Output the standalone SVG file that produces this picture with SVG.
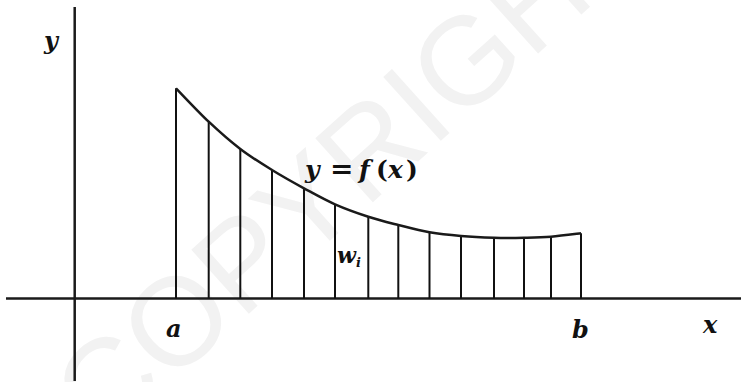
<svg xmlns="http://www.w3.org/2000/svg" width="741" height="382" viewBox="0 0 741 382">
<style>
.ax{stroke:#1a1a1a;stroke-width:2.5;fill:none}
.st{stroke:#111;stroke-width:2;fill:none}
.cv{stroke:#1a1a1a;stroke-width:2.5;fill:none}
.m{font-family:"DejaVu Serif","Liberation Serif",serif;font-style:italic;font-weight:bold;fill:#111}
.wm{font-family:"Liberation Sans","DejaVu Sans",sans-serif;fill:#f2f2f2}
</style>
<rect width="741" height="382" fill="#fff"/>
<text class="wm" font-size="125" transform="translate(102,446) rotate(-42)">COPYRIGHT</text>
<g id="axes">
<line class="ax" x1="74.7" y1="7" x2="74.7" y2="381"/>
<line class="ax" x1="6" y1="298.5" x2="741" y2="298.5"/>
</g>
<g id="strips">
<line class="st" x1="176" y1="88.3" x2="176" y2="298.5"/>
<line class="st" x1="208.7" y1="121.7" x2="208.7" y2="298.5"/>
<line class="st" x1="240.3" y1="149" x2="240.3" y2="298.5"/>
<line class="st" x1="272" y1="170" x2="272" y2="298.5"/>
<line class="st" x1="304" y1="188.3" x2="304" y2="298.5"/>
<line class="st" x1="335" y1="204.3" x2="335" y2="298.5"/>
<line class="st" x1="368.3" y1="216.7" x2="368.3" y2="298.5"/>
<line class="st" x1="398.3" y1="225" x2="398.3" y2="298.5"/>
<line class="st" x1="429.5" y1="232.3" x2="429.5" y2="298.5"/>
<line class="st" x1="461" y1="236" x2="461" y2="298.5"/>
<line class="st" x1="494" y1="237.7" x2="494" y2="298.5"/>
<line class="st" x1="524" y1="237.7" x2="524" y2="298.5"/>
<line class="st" x1="551" y1="236.7" x2="551" y2="298.5"/>
<line class="st" x1="581" y1="233.3" x2="581" y2="298.5"/>
</g>
<g id="curve">
<path class="cv" d="M176,88.3 C181.5,93.9 198,111.6 208.7,121.7 C219.4,131.8 229.8,141 240.3,149 C250.9,157.1 261.4,163.5 272,170 C282.6,176.5 293.5,182.6 304,188.3 C314.5,194 324.3,199.6 335,204.3 C345.7,209 357.8,213.3 368.3,216.7 C378.9,220.2 388.1,222.4 398.3,225 C408.5,227.6 419,230.5 429.5,232.3 C440,234.1 450.3,235.1 461,236 C471.8,236.9 483.5,237.4 494,237.7 C504.5,238 514.5,237.9 524,237.7 C533.5,237.5 541.5,237.4 551,236.7 C560.5,236 576,233.9 581,233.3"/>
</g>
<g id="labels">
<text class="m" x="44" y="49" font-size="24">y</text>
<text class="m" y="178" font-size="25"><tspan x="305">y</tspan><tspan x="330" font-style="normal" font-size="28">=</tspan><tspan x="359">f</tspan><tspan x="376" font-style="normal">(</tspan><tspan x="388">x</tspan><tspan x="406" font-style="normal">)</tspan></text>
<text class="m" x="337" y="263" font-size="22">w<tspan font-size="13" dy="4">i</tspan></text>
<text class="m" x="166" y="337" font-size="24">a</text>
<text class="m" x="572" y="338" font-size="24">b</text>
<text class="m" x="703" y="333" font-size="24">x</text>
</g>
</svg>
